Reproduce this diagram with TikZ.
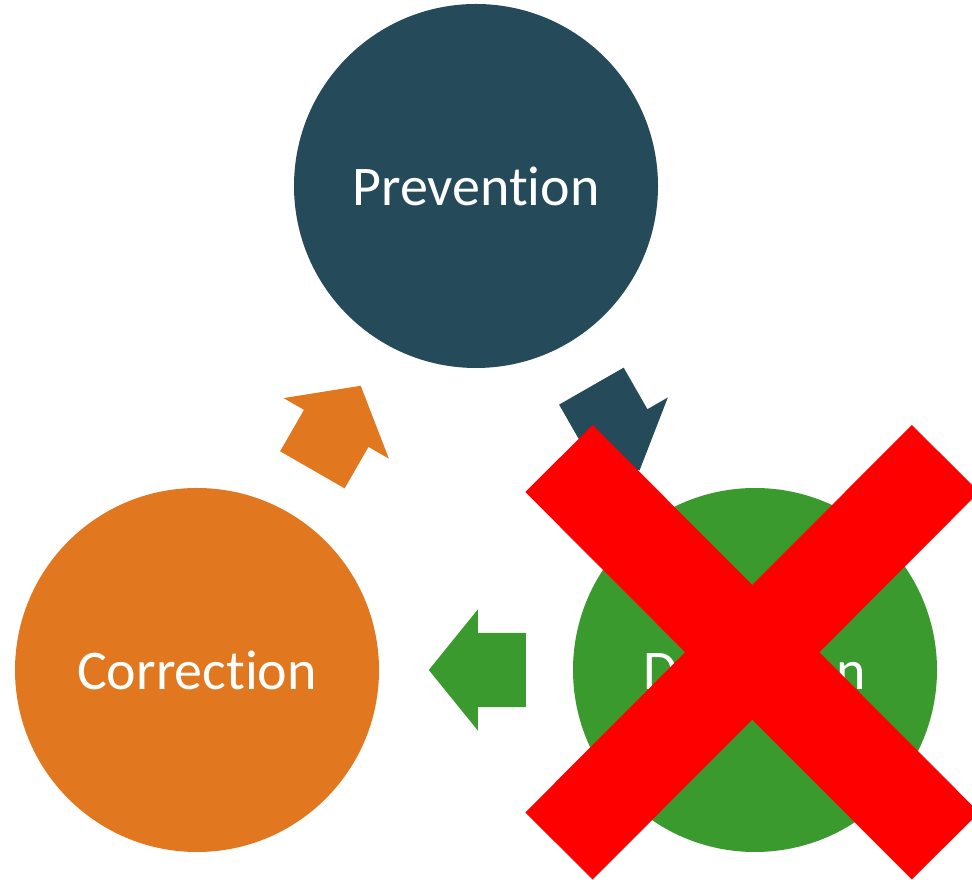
\documentclass[tikz,border=0pt]{standalone}
\usepackage{fontspec}
\setmainfont{Carlito}[Ligatures=NoCommon]
\usetikzlibrary{shapes.arrows,calc}
\definecolor{prevblue}{HTML}{254A5A}
\definecolor{corrorange}{HTML}{E1771F}
\definecolor{detgreen}{HTML}{3A9A2D}
\definecolor{crossred}{HTML}{FF0000}

\begin{document}
\begin{tikzpicture}[
  x = 1pt, y = 1pt,
  stage/.style = {circle, minimum size = 364pt, inner sep = 0pt, text = white,
                  font = \fontsize{56}{62}\selectfont},
  prevention/.style = {stage, fill = prevblue},
  detection/.style = {stage, fill = detgreen},
  correction/.style = {stage, fill = corrorange},
  flow/.style = {single arrow, anchor = tail, minimum height = 97pt, inner xsep = 0pt,
                 inner ysep = 37pt, single arrow head extend = 23.5pt,
                 single arrow tip angle = 102},
  cross/.style = {crossred, line width = 95pt},
  ]
  \useasboundingbox (0,0) rectangle (972,880);
  \clip (0,0) rectangle (972,880);
  \node[prevention] (prev) at (476,694) {Prevention};
  \node[detection] (det) at (755,210) {Detection};
  \node[correction] (corr) at (197,210) {Correction};
  % arrows sit half way between the circles
  \coordinate (pdmid) at ($(prev)!0.5!(det)$);
  \coordinate (dcmid) at ($(det)!0.5!(corr)$);
  \coordinate (cpmid) at ($(corr)!0.5!(prev)$);
  \node[flow, fill = prevblue, rotate = -60.2] (prevdet) at ($(pdmid)!48.5pt!(prev)$) {};
  \node[flow, fill = detgreen, rotate = 180] (detcorr) at ($(dcmid)!50pt!(det)$) {};
  \node[flow, fill = corrorange, rotate = 60.1] (corrprev) at ($(cpmid)!48.5pt!(corr)$) {};
  % the crossing-out
  \draw[cross] (559,421.5) -- (945.5,34);
  \draw[cross] (945.5,421.5) -- (559,34);
\end{tikzpicture}
\end{document}
